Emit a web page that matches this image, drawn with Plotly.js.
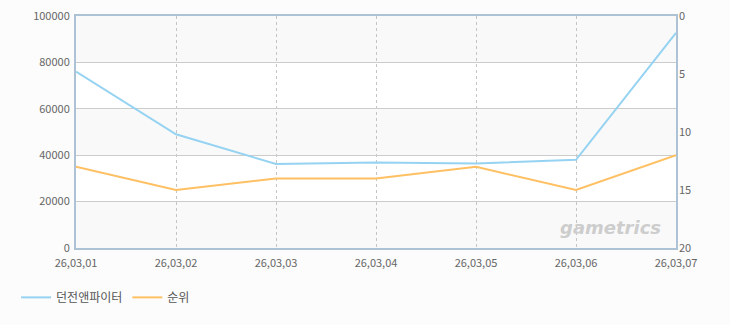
<!DOCTYPE html>
<html><head><meta charset="utf-8">
<script src="https://cdn.plot.ly/plotly-3.0.1.min.js"></script>
<style>html,body{margin:0;padding:0;background:#fcfcfc;}#c{width:730px;height:325px;}</style>
</head><body><div id="c"></div>
<script>
const dates = ["26,03,01","26,03,02","26,03,03","26,03,04","26,03,05","26,03,06","26,03,07"];
const players = [76000, 49000, 36200, 36900, 36400, 38000, 92700];
const ranks = [13, 15, 14, 14, 13, 15, 12];
const seriesNames = ["던전앤파이터", "순위"];
const leftTicks = [0, 20000, 40000, 60000, 80000, 100000];
const rightTicks = [0, 5, 10, 15, 20];

const font = "Noto Sans CJK KR, Noto Sans, sans-serif";
const traces = [
  {x: dates, y: players, name: seriesNames[0], type: "scatter", mode: "lines",
   line: {color: "#96d3f2", width: 2}, yaxis: "y"},
  {x: dates, y: ranks, name: seriesNames[1], type: "scatter", mode: "lines",
   line: {color: "#ffc063", width: 2}, yaxis: "y2"}
];
const bands = [];
for (let i = 0; i < leftTicks.length - 1; i++) {
  if (i % 2 === 1) bands.push({type: "rect", xref: "paper", yref: "y", x0: 0, x1: 1,
    y0: leftTicks[i], y1: leftTicks[i+1], fillcolor: "#ffffff", line: {width: 0}, layer: "below"});
}
const layout = {
  width: 730, height: 325,
  margin: {l: 76, r: 54, t: 16, b: 77, autoexpand: false},
  paper_bgcolor: "#fcfcfc", plot_bgcolor: "#f9f9f9",
  font: {family: font, size: 11, color: "#666"},
  showlegend: true,
  legend: {orientation: "h", x: 0.022, y: 0.085, xref: "container", yref: "container",
    xanchor: "left", yanchor: "middle",
    font: {family: font, size: 12, color: "#555"}, traceorder: "normal"},
  xaxis: {type: "category", range: [0, 6], showgrid: true, griddash: "3px,3px", gridcolor: "#c4c4c4",
    gridwidth: 1, showline: true, linecolor: "#aec2d6", linewidth: 2, mirror: true,
    ticks: "", tickfont: {family: font, size: 11, color: "#666"}, fixedrange: true, ticklabelstandoff: 4},
  yaxis: {range: [0, 100000], tickvals: leftTicks, ticktext: leftTicks.map(String),
    showgrid: true, gridcolor: "#cccccc", gridwidth: 1, zeroline: false,
    showline: true, linecolor: "#aec2d6", linewidth: 2, mirror: true, ticks: "",
    tickfont: {family: font, size: 11, color: "#666"}, ticklabelstandoff: 2},
  yaxis2: {range: [20, 0], tickvals: rightTicks, overlaying: "y", side: "right",
    showgrid: false, zeroline: false, showline: false, ticks: "",
    tickfont: {family: font, size: 11, color: "#666"}, ticklabelstandoff: 2},
  shapes: bands,
  annotations: [{xref: "paper", yref: "paper", x: 0.89, y: 0.09, xanchor: "center", yanchor: "middle",
    text: "<b><i>gametrics</i></b>", showarrow: false,
    font: {family: "DejaVu Sans, sans-serif", size: 18, color: "#cdcdcd"}}]
};
Plotly.newPlot("c", traces, layout, {displayModeBar: false, staticPlot: true});
</script></body></html>
